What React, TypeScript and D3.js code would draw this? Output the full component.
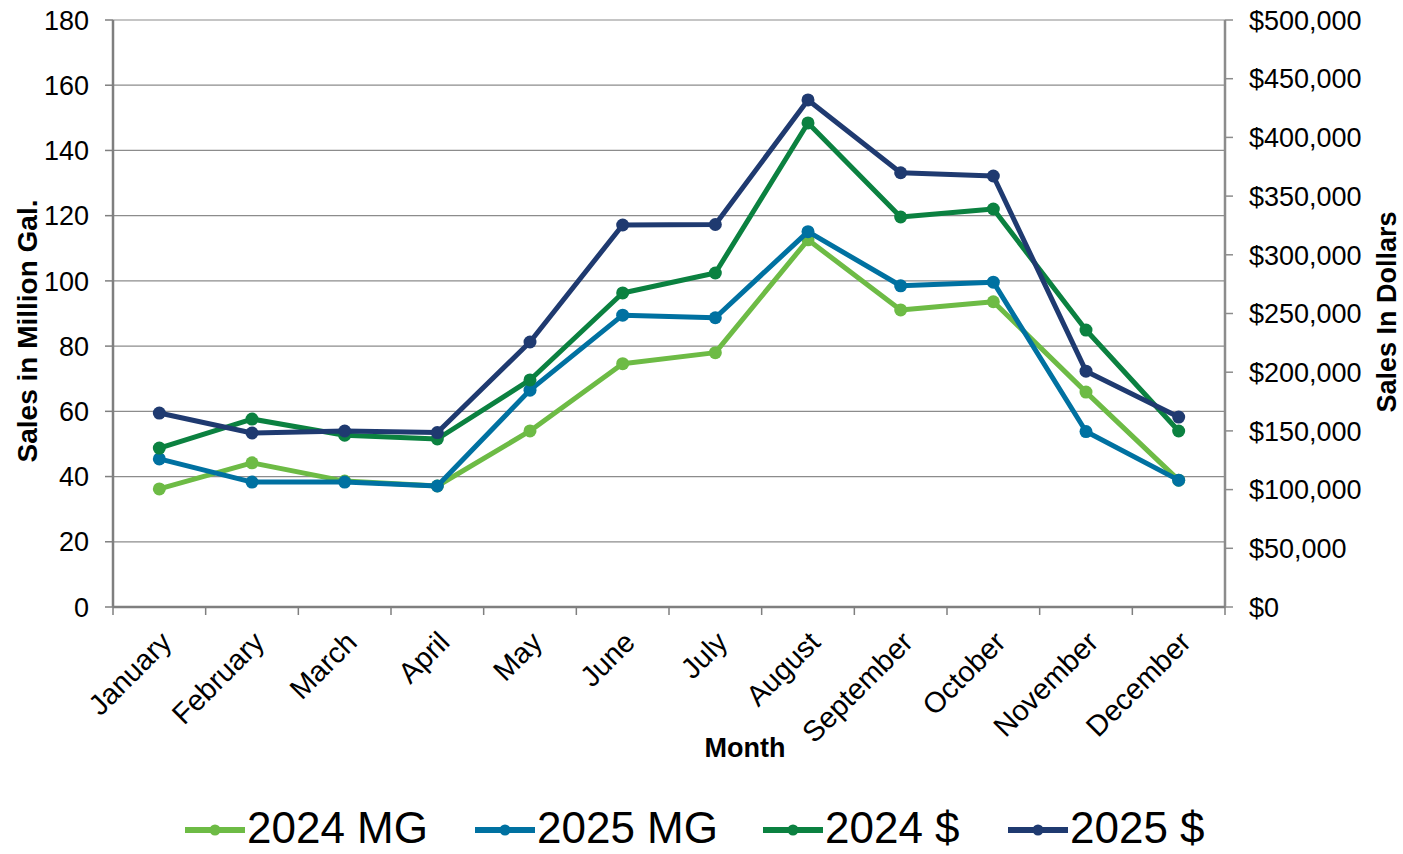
import React from "react";
import * as d3 from "d3";

const months = [
  "January", "February", "March", "April", "May", "June",
  "July", "August", "September", "October", "November", "December",
];
// million gallons
const mg2024 = [36.2, 44.2, 38.6, 37.1, 54.0, 74.6, 78.0, 112.6, 91.1, 93.6, 65.9, 38.9];
const mg2025 = [45.4, 38.3, 38.3, 37.1, 66.5, 89.5, 88.7, 115.1, 98.5, 99.6, 53.8, 38.9];
// dollars
const usd2024 = [135400, 160100, 146300, 143100, 193400, 267500, 284500, 412300, 332200, 339000, 235900, 149900];
const usd2025 = [165200, 148200, 149900, 148600, 225700, 325400, 325800, 431900, 369900, 367100, 200900, 161800];

const leftTicks = [0, 20, 40, 60, 80, 100, 120, 140, 160, 180];
const rightTicks = [0, 50000, 100000, 150000, 200000, 250000, 300000, 350000, 400000, 450000, 500000];

const seriesInfo = [
  { name: "2024 MG", color: "#6dbb45", values: mg2024, axis: "left" },
  { name: "2025 MG", color: "#0071a1", values: mg2025, axis: "left" },
  { name: "2024 $", color: "#0b8140", values: usd2024, axis: "right" },
  { name: "2025 $", color: "#1f3a70", values: usd2025, axis: "right" },
];

const W = 1403;
const H = 854;
const left = 113;
const right = 1225;
const top = 20;
const bottom = 607;
const font = "'Liberation Sans', Arial, sans-serif";

export default function App() {
  const x = d3.scaleBand().domain(months).range([left, right]).padding(0);
  const yL = d3.scaleLinear().domain([0, 180]).range([bottom, top]);
  const yR = d3.scaleLinear().domain([0, 500000]).range([bottom, top]);
  const fmt = (v: number) => "$" + d3.format(",")(v);
  const cx = (m: string) => (x(m) as number) + x.bandwidth() / 2;

  const boundaries = d3.range(months.length + 1).map((i) => left + i * x.bandwidth());

  // legend slots (line start x)
  const legendX = [185, 475, 763, 1008];

  return (
    <svg width={W} height={H} style={{ position: "absolute", left: 0, top: 0, background: "#fff" }} fontFamily={font}>
      {/* gridlines */}
      {leftTicks.slice(1).map((t) => (
        <line key={"g" + t} x1={left} x2={right} y1={yL(t)} y2={yL(t)} stroke="#8c8c8c" strokeWidth={1.2} />
      ))}
      {/* left axis */}
      <line x1={left} x2={left} y1={top} y2={bottom} stroke="#7f7f7f" strokeWidth={2.5} />
      {leftTicks.map((t) => (
        <g key={"l" + t}>
          <line x1={left - 8} x2={left} y1={yL(t)} y2={yL(t)} stroke="#7f7f7f" strokeWidth={1.5} />
          <text x={left - 24} y={yL(t)} dy="0.36em" textAnchor="end" fontSize={27} fill="#000">{t}</text>
        </g>
      ))}
      {/* right axis */}
      <line x1={right} x2={right} y1={top} y2={bottom} stroke="#8c8c8c" strokeWidth={2.5} />
      {rightTicks.map((t) => (
        <g key={"r" + t}>
          <line x1={right} x2={right + 8} y1={yR(t)} y2={yR(t)} stroke="#8c8c8c" strokeWidth={1.5} />
          <text x={right + 24} y={yR(t)} dy="0.36em" textAnchor="start" fontSize={27} fill="#000">{fmt(t)}</text>
        </g>
      ))}
      {/* x axis */}
      <line x1={left} x2={right} y1={bottom} y2={bottom} stroke="#7f7f7f" strokeWidth={2.5} />
      {boundaries.map((b, i) => (
        <line key={"xt" + i} x1={b} x2={b} y1={bottom} y2={bottom + 8} stroke="#7f7f7f" strokeWidth={1.5} />
      ))}
      {months.map((m) => (
        <text
          key={m}
          transform={`translate(${cx(m) + 14},${bottom + 37}) rotate(-45)`}
          textAnchor="end"
          fontSize={29}
          fill="#000"
        >
          {m}
        </text>
      ))}
      {/* axis titles */}
      <text x={745} y={757} textAnchor="middle" fontSize={27} fontWeight="bold">Month</text>
      <text transform={`translate(37,331) rotate(-90)`} textAnchor="middle" fontSize={28} fontWeight="bold">
        Sales in Million Gal.
      </text>
      <text transform={`translate(1396,312) rotate(-90)`} textAnchor="middle" fontSize={27} fontWeight="bold">
        Sales In Dollars
      </text>
      {/* series */}
      {seriesInfo.map((s) => {
        const ys = s.axis === "left" ? yL : yR;
        const line = d3
          .line<number>()
          .x((_, i) => cx(months[i]))
          .y((d) => ys(d));
        return (
          <g key={s.name}>
            <path d={line(s.values) || ""} fill="none" stroke={s.color} strokeWidth={5} strokeLinejoin="round" />
            {s.values.map((v, i) => (
              <circle key={i} cx={cx(months[i])} cy={ys(v)} r={6.5} fill={s.color} />
            ))}
          </g>
        );
      })}
      {/* legend */}
      {seriesInfo.map((s, i) => (
        <g key={"lg" + s.name} transform={`translate(${legendX[i]},830)`}>
          <line x1={0} x2={60} y1={0} y2={0} stroke={s.color} strokeWidth={6} />
          <circle cx={30} cy={0} r={5.5} fill={s.color} />
          <text x={62} y={13} fontSize={44} fill="#000">{s.name}</text>
        </g>
      ))}
    </svg>
  );
}
